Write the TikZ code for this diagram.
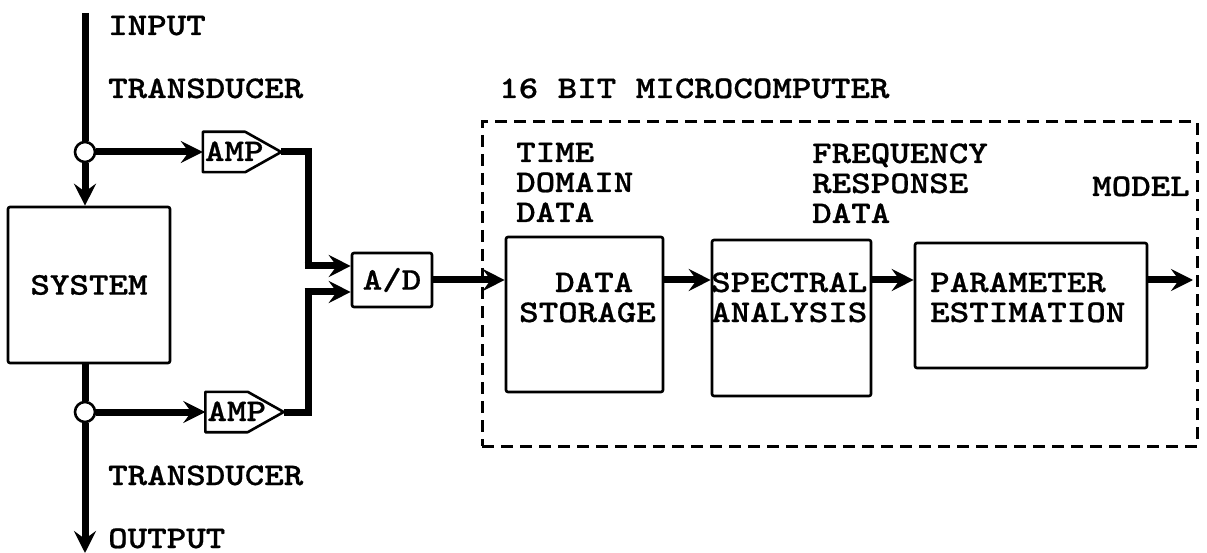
\documentclass[tikz,border=0pt]{standalone}
\usepackage{fontspec}
\newfontfamily\twfont[Extension=.otf, FakeStretch=1.18, FakeBold=0.6]{lmmonolt10-bold}
\usetikzlibrary{arrows.meta,calc}
\begin{document}
\begin{tikzpicture}[x=1pt,y=-1pt,
  lbl/.style={font=\twfont\fontsize{31.5}{30}\selectfont, inner sep=0pt, anchor=base west},
  box/.style={draw, line width=2.6pt, rounded corners=2pt, inner sep=0pt,
    font=\twfont\fontsize{31.5}{30}\selectfont},
  sig/.style={line width=7pt},
  arr/.style={sig, -{Stealth[length=22pt,width=22pt,inset=8pt]}},
  jc/.style={circle, draw, fill=white, line width=2.6pt, minimum size=20pt, inner sep=0pt},
  ampshape/.style={draw=none, minimum width=78pt, minimum height=40pt, inner sep=0pt},
  dashbox/.style={draw, line width=3pt, dash pattern=on 12pt off 7pt}
]
\useasboundingbox (0,0) rectangle (1207,553);

% dashed microcomputer frame
\node[dashbox, minimum width=715pt, minimum height=324pt] (mc) at (839.5,284) {};

% blocks
\node[box, minimum width=162pt, minimum height=156pt] (sys) at (89,285) {SYSTEM};
\node[box, minimum width=80pt, minimum height=54pt] (ad) at (392,280) {A/D};
\node[box, minimum width=157pt, minimum height=155pt] (ds) at (584.5,314.5) {};
\node[box, minimum width=159pt, minimum height=156pt] (sa) at (791.5,318) {};
\node[box, minimum width=232pt, minimum height=125pt] (pe) at (1031,305.5) {};

% junction circles
\node[jc] (c1) at (85,152) {};
\node[jc] (c2) at (85,412) {};

% amplifiers
\node[ampshape] (amp1) at (242,152) {};
\node[ampshape] (amp2) at (244.5,412) {};
\foreach \a in {amp1,amp2}{
  \draw[line width=2.6pt, line join=round]
    (\a.north west) -- ($(\a.north east)+(-36,0)$) -- (\a.east)
    -- ($(\a.south east)+(-36,0)$) -- (\a.south west) -- cycle;
}
\node[lbl] (amp1t) at ($(amp1.west)+(2,9)$) {AMP};
\node[lbl] (amp2t) at ($(amp2.west)+(2,9)$) {AMP};

% free ends and junction points
\coordinate (intop) at (85,13);
\coordinate (outend) at (85,553);
\coordinate (j1) at (308,266);
\coordinate (j2) at (308,292);
\coordinate (mout) at (1193,280);

% signal connectors
\draw[sig] (intop) -- (c1.north);
\draw[arr] (c1.south) -- (c1.south |- sys.north);
\draw[arr] (c1.east) -- (amp1.west);
\draw[sig, line join=miter] (amp1.east) -| (j1);
\draw[arr] ($(j1)+(-3.5,0)$) -- (ad.west |- j1);
\draw[sig] (c2.north |- sys.south) -- (c2.north);
\draw[arr] (c2.south) -- (outend);
\draw[arr] (c2.east) -- (amp2.west);
\draw[sig, line join=miter] (amp2.east) -| (j2);
\draw[arr] ($(j2)+(-3.5,0)$) -- (ad.west |- j2);
\draw[arr] (ad.east) -- (ad.east -| ds.west);
\draw[arr] (ds.east |- ad.east) -- (sa.west |- ad.east);
\draw[arr] (sa.east |- ad.east) -- (pe.west |- ad.east);
\draw[arr] (pe.east |- ad.east) -- (mout);

% labels
\node[lbl] (tin) at (108,35) {INPUT};
\node[lbl] (ttr1) at (108,98) {TRANSDUCER};
\node[lbl] (tmc) at (499,98) {16 BIT MICROCOMPUTER};
\node[lbl] (tt1) at (516,162) {TIME};
\node[lbl] (tt2) at (516,192) {DOMAIN};
\node[lbl] (tt3) at (516,222) {DATA};
\node[lbl] (tf1) at (812,163) {FREQUENCY};
\node[lbl] (tf2) at (812,193) {RESPONSE};
\node[lbl] (tf3) at (812,223) {DATA};
\node[lbl] (tmo) at (1092,196) {MODEL};
\node[lbl] (tds1) at (555,292) {DATA};
\node[lbl] (tds2) at (519,322) {STORAGE};
\node[lbl] (tsa1) at (711,292) {SPECTRAL};
\node[lbl] (tsa2) at (711,322) {ANALYSIS};
\node[lbl] (tpe1) at (930,292) {PARAMETER};
\node[lbl] (tpe2) at (930,322) {ESTIMATION};
\node[lbl] (ttr2) at (108,485) {TRANSDUCER};
\node[lbl] (tout) at (108,548) {OUTPUT};
\end{tikzpicture}
\end{document}
